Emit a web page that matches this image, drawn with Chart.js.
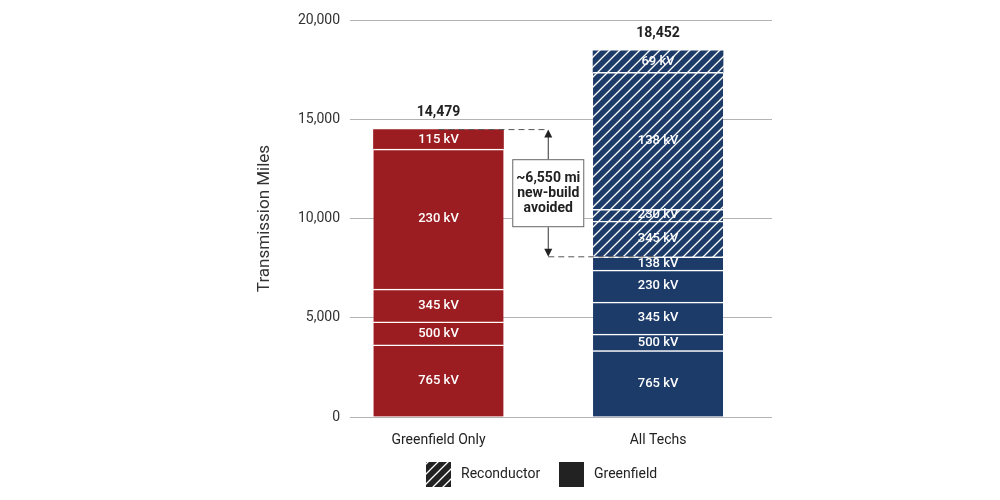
<!DOCTYPE html>
<html>
<head>
<meta charset="utf-8">
<script src="https://cdn.jsdelivr.net/npm/chart.js@4"></script>
<style>
  body { margin: 0; background: #fff; }
</style>
</head>
<body>
<canvas id="miles" width="1000" height="500"></canvas>
<script>
// data
const categories = ['Greenfield Only', 'All Techs'];
const totals = [14479, 18452];

const greenfieldOnlyKv = ['765 kV', '500 kV', '345 kV', '230 kV', '115 kV'];
const greenfieldOnlyMiles = [3630, 1160, 1660, 7050, 979];

const allTechsKv = ['765 kV', '500 kV', '345 kV', '230 kV', '138 kV', '345 kV', '230 kV', '138 kV', '69 kV'];
const allTechsMiles = [3340, 840, 1610, 1610, 670, 1800, 590, 6900, 1092];
const allTechsReconductor = [false, false, false, false, false, true, true, true, true];

const yTicks = [0, 5000, 10000, 15000, 20000];
const avoidedText = ['~6,550 mi', 'new-build', 'avoided'];
const legendItems = ['Reconductor', 'Greenfield'];

const RED = '#9b1d22';
const NAVY = '#1c3b69';
const FONT = 'Roboto';

function hatch(bg) {
    const s = 10;
    const c = document.createElement('canvas');
    c.width = s; c.height = s;
    const g = c.getContext('2d');
    g.fillStyle = bg;
    g.fillRect(0, 0, s, s);
    g.strokeStyle = '#fff';
    g.lineWidth = 1.3;
    g.beginPath();
    g.moveTo(0, s); g.lineTo(s, 0);
    g.moveTo(-2, 2); g.lineTo(2, -2);
    g.moveTo(s - 2, s + 2); g.lineTo(s + 2, s - 2);
    g.stroke();
    return g.createPattern(c, 'repeat');
}

const navyHatch = hatch(NAVY);
const legendHatch = hatch('#222');

const layers = Math.max(greenfieldOnlyMiles.length, allTechsMiles.length);
const datasets = [];
for (let i = 0; i < layers; i++) {
    const gv = greenfieldOnlyMiles[i] ?? null;
    const av = allTechsMiles[i] ?? null;
    datasets.push({
        data: [{x: 0, y: gv}, {x: 1, y: av}],
        kv: [greenfieldOnlyKv[i], allTechsKv[i]],
        backgroundColor: [RED, allTechsReconductor[i] ? navyHatch : NAVY],
        borderColor: '#fff',
        borderWidth: (c) => {
            const last = c.dataIndex === 0 ? greenfieldOnlyMiles.length - 1 : allTechsMiles.length - 1;
            return {top: i === last ? 0 : 1.5, bottom: 0, left: 0, right: 0};
        },
        borderSkipped: false,
        barThickness: 130
    });
}

const greenfieldAllTechs = allTechsMiles
    .filter((v, i) => !allTechsReconductor[i])
    .reduce((a, b) => a + b, 0);

const barText = {
    id: 'barText',
    afterDatasetsDraw(chart) {
        const ctx = chart.ctx;
        const xs = chart.scales.x, ys = chart.scales.y;
        ctx.save();
        ctx.textAlign = 'center';
        ctx.textBaseline = 'middle';

        // kV labels
        ctx.fillStyle = '#fff';
        ctx.font = '500 13px ' + FONT;
        chart.data.datasets.forEach((ds, i) => {
            chart.getDatasetMeta(i).data.forEach((el, j) => {
                if (ds.data[j].y == null) return;
                ctx.fillText(ds.kv[j], el.x, (el.y + el.base) / 2);
            });
        });

        // totals above bars
        ctx.fillStyle = '#222';
        ctx.font = 'bold 14px ' + FONT;
        totals.forEach((t, j) => {
            ctx.fillText(t.toLocaleString('en-US'), xs.getPixelForValue(j), ys.getPixelForValue(t) - 17);
        });

        // avoided annotation
        const x0 = xs.getPixelForValue(0), x1 = xs.getPixelForValue(1), xm = xs.getPixelForValue(0.5);
        const yTop = ys.getPixelForValue(totals[0]);
        const yBot = ys.getPixelForValue(greenfieldAllTechs);
        ctx.strokeStyle = '#555';
        ctx.lineWidth = 1;
        ctx.setLineDash([6, 4]);
        ctx.beginPath();
        ctx.moveTo(x0, yTop); ctx.lineTo(xm, yTop);
        ctx.moveTo(xm, yBot); ctx.lineTo(x1, yBot);
        ctx.stroke();
        ctx.setLineDash([]);

        ctx.strokeStyle = '#333';
        ctx.beginPath();
        ctx.moveTo(xm, yTop + 6); ctx.lineTo(xm, yBot - 6);
        ctx.stroke();
        ctx.fillStyle = '#222';
        ctx.beginPath();
        ctx.moveTo(xm, yTop); ctx.lineTo(xm - 4, yTop + 8); ctx.lineTo(xm + 4, yTop + 8);
        ctx.closePath(); ctx.fill();
        ctx.beginPath();
        ctx.moveTo(xm, yBot); ctx.lineTo(xm - 4, yBot - 8); ctx.lineTo(xm + 4, yBot - 8);
        ctx.closePath(); ctx.fill();

        const bw = 72, bh = 68, yc = (yTop + yBot) / 2;
        ctx.fillStyle = '#fff';
        ctx.fillRect(xm - bw / 2, yc - bh / 2, bw, bh);
        ctx.strokeStyle = '#666';
        ctx.strokeRect(xm - bw / 2 + 0.5, yc - bh / 2 + 0.5, bw - 1, bh - 1);
        ctx.fillStyle = '#222';
        ctx.font = 'bold 14px ' + FONT;
        avoidedText.forEach((line, k) => {
            ctx.fillText(line, xm, yc + (k - 1) * 15);
        });

        // legend
        ctx.textAlign = 'left';
        ctx.font = '14px ' + FONT;
        const lx = [426, 559], ly = 462, box = 25;
        [legendHatch, '#222'].forEach((fill, k) => {
            ctx.fillStyle = fill;
            ctx.fillRect(lx[k], ly, box, box);
            ctx.fillStyle = '#222';
            ctx.fillText(legendItems[k], lx[k] + box + 10, ly + box / 2);
        });
        ctx.restore();
    }
};

new Chart(document.getElementById('miles'), {
    type: 'bar',
    data: { datasets: datasets },
    options: {
        responsive: false,
        animation: false,
        devicePixelRatio: 1,
        layout: { padding: { left: 250, right: 228, top: 20, bottom: 50 } },
        plugins: {
            legend: { display: false },
            tooltip: { enabled: false }
        },
        scales: {
            x: {
                type: 'linear',
                stacked: true,
                offset: false,
                min: -0.403,
                max: 1.519,
                afterBuildTicks: (s) => { s.ticks = categories.map((c, i) => ({value: i})); },
                afterFit: (s) => { s.height = 33; },
                ticks: {
                    callback: (v) => categories[v],
                    color: '#222',
                    padding: 7,
                    font: { family: FONT, size: 14 }
                },
                grid: { display: false },
                border: { display: false }
            },
            y: {
                stacked: true,
                min: 0,
                max: 20000,
                afterBuildTicks: (s) => { s.ticks = yTicks.map(v => ({value: v})); },
                afterFit: (s) => { s.width = 100; },
                ticks: {
                    callback: (v) => v.toLocaleString('en-US'),
                    color: '#333',
                    padding: 10,
                    font: { family: FONT, size: 14 }
                },
                grid: { color: '#b3b3b3', lineWidth: 1, drawTicks: false },
                border: { display: false },
                title: {
                    display: true,
                    text: 'Transmission Miles',
                    color: '#333',
                    padding: { top: 5, bottom: 0 },
                    font: { family: FONT, size: 17 }
                }
            }
        }
    },
    plugins: [barText]
});
</script>
</body>
</html>
